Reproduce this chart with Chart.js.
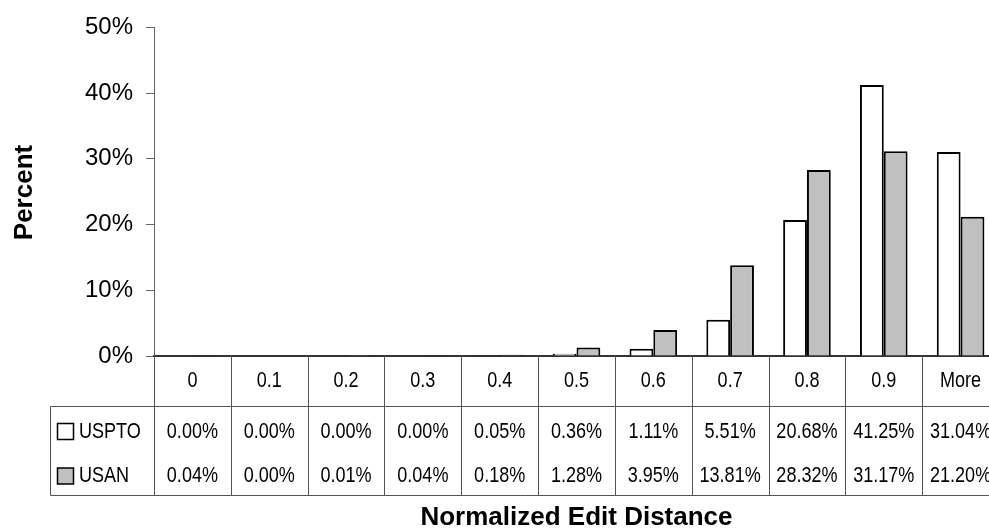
<!DOCTYPE html>
<html>
<head>
<meta charset="utf-8">
<script src="https://cdn.jsdelivr.net/npm/chart.js@4"></script>
<style>
  html, body { margin: 0; padding: 0; background: #fff; overflow: hidden; }
  #wrap { position: relative; width: 1000px; height: 529px; }
</style>
</head>
<body>
<div id="wrap"><canvas id="c"></canvas></div>
<script>
// ---- Data ----
const categories = ['0', '0.1', '0.2', '0.3', '0.4', '0.5', '0.6', '0.7', '0.8', '0.9', 'More'];
const seriesNames = ['USPTO', 'USAN'];
const usptoValues = [0.00, 0.00, 0.00, 0.00, 0.05, 0.36, 1.11, 5.51, 20.68, 41.25, 31.04];
const usanValues  = [0.04, 0.00, 0.01, 0.04, 0.18, 1.28, 3.95, 13.81, 28.32, 31.17, 21.20];
const yTicks = [0, 10, 20, 30, 40, 50];
const yTitle = 'Percent';
const xTitle = 'Normalized Edit Distance';

const seriesFill = ['#ffffff', '#c0c0c0'];
const seriesValues = [usptoValues, usanValues];

// choose a narrow font for the data table
function pickTableFont() {
  const cv = document.createElement('canvas').getContext('2d');
  cv.font = '22px serif';
  const w1 = cv.measureText('0.00% USPTO More').width;
  cv.font = '22px "Liberation Sans Narrow", serif';
  const w2 = cv.measureText('0.00% USPTO More').width;
  if (Math.abs(w1 - w2) > 0.5) return { font: '22px "Liberation Sans Narrow", sans-serif', sx: 1 };
  return { font: '22px "Liberation Sans", Arial, sans-serif', sx: 0.82 };
}
const tableFont = pickTableFont();

function drawText(ctx, text, x, y, align) {
  ctx.save();
  ctx.translate(x, y);
  ctx.scale(tableFont.sx, 1);
  ctx.textAlign = align;
  ctx.textBaseline = 'middle';
  ctx.fillText(text, 0, 0);
  ctx.restore();
}

const tablePlugin = {
  id: 'dataTable',
  afterDraw(chart) {
    const ctx = chart.ctx;
    const xs = chart.scales.x;
    const area = chart.chartArea;
    const n = categories.length;
    const cw = (area.right - area.left) / n;
    const yAxis = area.bottom;
    const rowTop = 406.5, rowBottom = 495.5, labelLeft = 50.5;
    const rowY = [431.5, 476];

    ctx.save();
    ctx.strokeStyle = '#555';
    ctx.lineWidth = 1;
    ctx.beginPath();
    // vertical separators
    for (let i = 0; i <= n; i++) {
      const x = Math.round(area.left + i * cw) + 0.5;
      ctx.moveTo(x, yAxis);
      ctx.lineTo(x, rowBottom);
    }
    ctx.moveTo(labelLeft, rowTop); ctx.lineTo(labelLeft, rowBottom);
    ctx.moveTo(labelLeft, rowTop); ctx.lineTo(area.right + 2, rowTop);
    ctx.moveTo(labelLeft, rowBottom); ctx.lineTo(area.right + 2, rowBottom);
    ctx.stroke();

    ctx.fillStyle = '#000';
    ctx.font = tableFont.font;
    // category labels
    categories.forEach((c, i) => {
      drawText(ctx, c, xs.getPixelForValue(i), 381, 'center');
    });
    // values
    seriesValues.forEach((vals, s) => {
      vals.forEach((v, i) => {
        drawText(ctx, v.toFixed(2) + '%', xs.getPixelForValue(i), rowY[s], 'center');
      });
      // legend key
      ctx.fillStyle = seriesFill[s];
      ctx.strokeStyle = '#000';
      ctx.lineWidth = 1.5;
      const by = rowY[s] - 8;
      ctx.fillRect(57.5, by, 16, 16);
      ctx.strokeRect(57.5, by, 16, 16);
      ctx.fillStyle = '#000';
      drawText(ctx, seriesNames[s], 79, rowY[s], 'left');
    });

    // axis titles
    ctx.font = 'bold 26px "Liberation Sans", Arial, sans-serif';
    ctx.textAlign = 'center';
    ctx.textBaseline = 'alphabetic';
    ctx.fillText(xTitle, (area.left + area.right) / 2, 525);
    ctx.save();
    ctx.translate(31.5, 192.5);
    ctx.rotate(-Math.PI / 2);
    ctx.textBaseline = 'alphabetic';
    ctx.fillText(yTitle, 0, 0);
    ctx.restore();
    ctx.restore();
  }
};

Chart.defaults.font.family = '"Liberation Sans", Arial, sans-serif';
Chart.defaults.color = '#000';

new Chart(document.getElementById('c'), {
  type: 'bar',
  data: {
    labels: categories,
    datasets: seriesNames.map((name, s) => ({
      label: name,
      data: seriesValues[s],
      backgroundColor: seriesFill[s],
      borderColor: '#000',
      borderWidth: 2,
      categoryPercentage: 0.62,
      barPercentage: 1.0
    }))
  },
  options: {
    responsive: true,
    maintainAspectRatio: false,
    animation: false,
    layout: { padding: { left: 0, top: 24, right: 1, bottom: 173 } },
    plugins: { legend: { display: false }, tooltip: { enabled: false } },
    scales: {
      x: {
        grid: { display: false },
        ticks: { display: false },
        border: { display: true, color: '#333', width: 2 },
        afterFit(s) { s.height = 0; }
      },
      y: {
        min: 0,
        max: 50,
        afterBuildTicks(s) { s.ticks = yTicks.map(v => ({ value: v })); },
        ticks: {
          callback: v => v + '%',
          font: { size: 24 },
          color: '#000',
          padding: 13
        },
        grid: { drawOnChartArea: false, drawTicks: true, tickLength: 8, color: '#666' },
        border: { display: true, color: '#666', width: 1 },
        afterFit(s) { s.width = 154; }
      }
    }
  },
  plugins: [tablePlugin]
});
</script>
</body>
</html>
